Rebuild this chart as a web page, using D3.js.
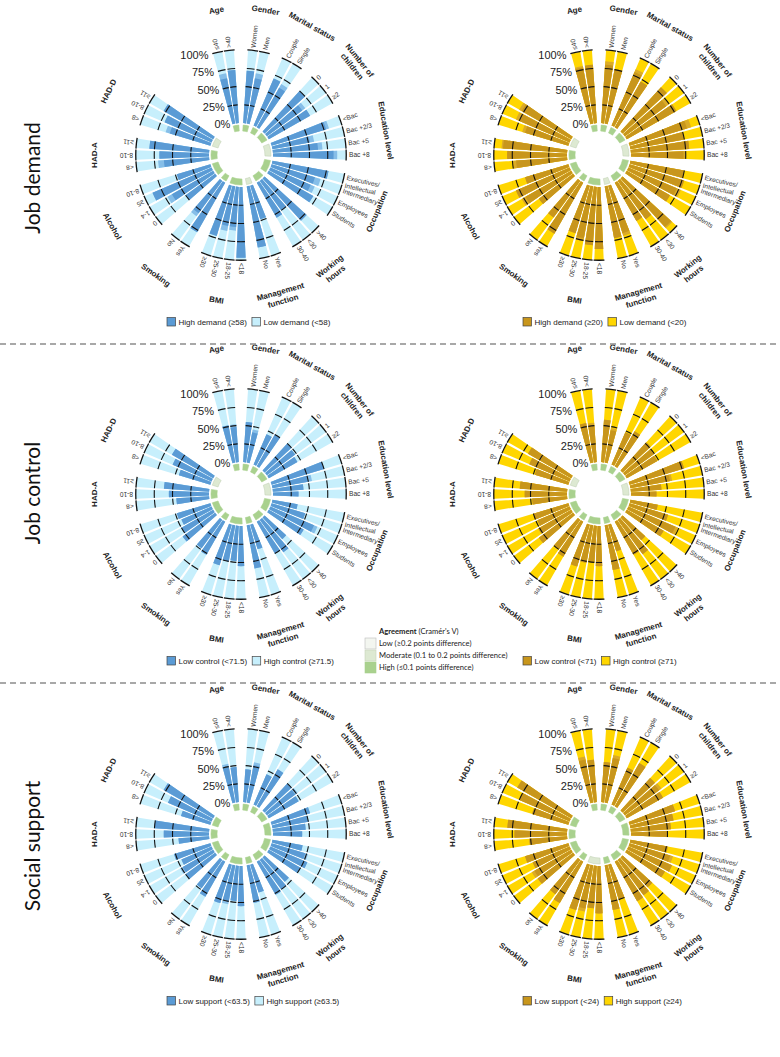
<!DOCTYPE html>
<html>
<head>
<meta charset="utf-8">
<script src="https://cdn.jsdelivr.net/npm/d3@7"></script>
<style>
  body { margin: 0; background: #fff; }
  svg { display: block; font-family: "Liberation Sans", Arial, sans-serif; }
</style>
</head>
<body>
<div id="chart"></div>
<script>
// ---- data ----
const groups = ["Age", "Gender", "Marital status", "Number of|children", "Education level",
  "Occupation", "Working|hours", "Management|function", "BMI", "Smoking", "Alcohol", "HAD-A", "HAD-D"];
const groupItems = [
  ["≤40", ">40"], ["Women", "Men"], ["Couple", "Single"], ["0", "1", "≥2"],
  ["<Bac", "Bac +2/3", "Bac +5", "Bac +8"],
  ["Executives/|Intellectual", "Intermediary", "Employees", "Students"],
  [">40", "<30", "30-40"], ["Yes", "No"], ["<18", "18-25", "25-30", "≥30"],
  ["Yes", "No"], ["0", "1-4", "≥5", "8-10"], ["<8", "8-10", "≥11"], ["<8", "8-10", "≥11"]
];
const pctTicks = [0, 25, 50, 75, 100];
const rowTitles = ["Job demand", "Job control", "Social support"];

// dark share (%) and end of the intermediate band (%), per bar in the order above
const demandBlueDark = [63, 73, 72, 63, 70, 62, 75, 60, 65, 78, 52, 62, 83, 78, 62, 60, 70, 78, 50, 55, 48, 85, 97, 55, 55, 72, 78, 55, 50, 65, 88, 48, 62, 68, 82, 58, 70, 78];
const demandBlueMid  = [70, 73, 72, 70, 70, 68, 75, 65, 65, 82, 58, 68, 88, 78, 70, 66, 70, 78, 50, 55, 48, 85, 97, 60, 62, 72, 78, 60, 50, 72, 88, 48, 70, 68, 82, 64, 70, 78];
const demandGoldDark = [78, 80, 80, 76, 80, 72, 82, 70, 78, 82, 75, 80, 72, 75, 78, 72, 68, 90, 65, 60, 68, 72, 85, 80, 72, 68, 80, 62, 58, 72, 80, 62, 70, 82, 88, 62, 75, 78];
const demandGoldMid  = [80, 80, 85, 76, 84, 72, 82, 75, 78, 88, 75, 80, 75, 75, 78, 78, 68, 92, 65, 60, 72, 72, 85, 80, 76, 68, 80, 62, 58, 78, 80, 62, 74, 82, 90, 66, 80, 82];
const controlBlueDark = [52, 48, 55, 42, 45, 50, 50, 48, 45, 75, 50, 42, 35, 35, 48, 65, 55, 40, 55, 50, 35, 60, 55, 48, 50, 58, 52, 48, 55, 50, 45, 48, 45, 55, 62, 45, 58, 65];
const controlBlueMid  = [52, 52, 55, 46, 45, 50, 50, 48, 45, 75, 55, 42, 35, 35, 48, 70, 55, 40, 55, 50, 35, 60, 55, 48, 50, 58, 52, 48, 55, 50, 45, 48, 45, 55, 62, 45, 58, 65];
const controlGoldDark = [55, 50, 58, 45, 48, 55, 52, 50, 48, 78, 55, 42, 35, 38, 55, 70, 58, 42, 58, 52, 38, 62, 55, 50, 52, 60, 55, 50, 58, 52, 48, 50, 48, 58, 65, 48, 60, 68];
const controlGoldMid  = [55, 54, 58, 48, 48, 55, 52, 50, 48, 78, 58, 42, 35, 38, 55, 74, 58, 42, 58, 52, 38, 62, 55, 50, 52, 60, 55, 50, 58, 52, 48, 50, 48, 58, 65, 48, 60, 68];
const supportBlueDark = [50, 48, 45, 52, 45, 58, 50, 48, 47, 55, 50, 45, 40, 42, 48, 55, 50, 45, 50, 52, 40, 52, 55, 48, 50, 55, 55, 48, 50, 48, 45, 52, 42, 62, 75, 42, 65, 78];
const supportBlueMid  = [54, 48, 45, 56, 45, 58, 50, 52, 47, 55, 50, 45, 40, 42, 52, 55, 50, 45, 50, 52, 40, 52, 55, 48, 54, 55, 55, 48, 50, 52, 45, 52, 42, 62, 75, 42, 65, 78];
const supportGoldDark = [60, 58, 55, 62, 55, 68, 60, 58, 57, 65, 60, 55, 50, 52, 58, 65, 60, 55, 60, 62, 50, 62, 65, 58, 60, 65, 65, 58, 60, 58, 55, 62, 52, 72, 82, 52, 75, 85];
const supportGoldMid  = [64, 58, 55, 66, 55, 68, 60, 62, 57, 65, 60, 55, 50, 52, 62, 65, 60, 55, 60, 62, 50, 62, 65, 58, 64, 65, 65, 58, 60, 62, 55, 62, 52, 72, 82, 52, 75, 85];

// agreement per variable group: 0 low, 1 moderate, 2 high
const agreeDemandBlue  = [2, 2, 2, 2, 1, 2, 2, 1, 2, 2, 2, 2, 1];
const agreeDemandGold  = [2, 2, 2, 2, 1, 2, 2, 1, 2, 2, 2, 2, 1];
const agreeControlBlue = [2, 2, 2, 2, 1, 2, 2, 2, 2, 2, 2, 2, 1];
const agreeControlGold = [2, 2, 2, 2, 1, 2, 2, 2, 2, 2, 2, 2, 1];
const agreeSupportBlue = [2, 2, 2, 2, 2, 2, 2, 2, 2, 2, 2, 2, 2];
const agreeSupportGold = [2, 2, 2, 2, 2, 2, 2, 2, 1, 2, 2, 2, 2];

const legendLabels = [
  ["High demand (≥58)", "Low demand (<58)"], ["High demand (≥20)", "Low demand (<20)"],
  ["Low control (<71.5)", "High control (≥71.5)"], ["Low control (<71)", "High control (≥71)"],
  ["Low support (<63.5)", "High support (≥63.5)"], ["Low support (<24)", "High support (≥24)"]
];
const agreeLabels = ["Low (≥0.2 points difference)", "Moderate (0.1 to 0.2 points difference)", "High (≤0.1 points difference)"];

// ---- styles ----
const W = 780, H = 1057;
const palettes = {
  blue: { dark: "#5b9bd5", mid: "#86bee8", light: "#c7effc" },
  gold: { dark: "#c8961c", mid: "#dbab27", light: "#ffd600" }
};
const agreeFill = ["#f3f6f0", "#dde9d2", "#a9d18e"];
const agreeStroke = ["#bdbdbd", "#c5d3b9", "#a9d18e"];

const svg = d3.select("#chart").append("svg").attr("width", W).attr("height", H);

// slot layout: bars, single gaps between groups, wider gap for the % axis
const slots = [];
const bars = [];
groupItems.forEach((items, gi) => {
  items.forEach((lab, j) => {
    const key = gi + "_" + j;
    slots.push(key);
    bars.push({ key, gi, lab });
  });
  if (gi < groupItems.length - 1) slots.push("gap" + gi);
});
for (let k = 0; k < 6; k++) slots.push("axis" + k);

const step = 2 * Math.PI / slots.length;
const a0 = -2.5 * step;
const angle = d3.scaleBand().domain(slots).range([a0, a0 + 2 * Math.PI])
  .paddingInner(0.2).paddingOuter(0.1);
const radius = d3.scaleLinear().domain([0, 100]).range([32, 105]);
const arc = d3.arc();
const deg = a => a * 180 / Math.PI;

function drawChart(cx, cy, dark, mid, agree, pal, legend, lx) {
  const g = svg.append("g").attr("transform", `translate(${cx},${cy})`);
  const rows = bars.map((b, i) => Object.assign({}, b, { dark: dark[i], mid: mid[i] }));

  const seg = (d, from, to) => arc({
    innerRadius: radius(from), outerRadius: radius(to),
    startAngle: angle(d.key), endAngle: angle(d.key) + angle.bandwidth()
  });

  const bg = g.append("g");
  bg.selectAll(".light").data(rows).join("path").attr("d", d => seg(d, 0, 100)).attr("fill", pal.light);
  bg.selectAll(".mid").data(rows).join("path").attr("d", d => seg(d, 0, d.mid)).attr("fill", pal.mid);
  bg.selectAll(".dark").data(rows).join("path").attr("d", d => seg(d, 0, d.dark)).attr("fill", pal.dark);

  // tick marks across each bar
  [25, 50, 75].forEach(p => {
    g.append("g").selectAll("path").data(rows).join("path")
      .attr("d", d => arc({
        innerRadius: radius(p) - 0.55, outerRadius: radius(p) + 0.55,
        startAngle: angle(d.key), endAngle: angle(d.key) + angle.bandwidth()
      }))
      .attr("fill", "#111");
  });
  g.append("g").selectAll("path").data(rows).join("path")
    .attr("d", d => arc({
      innerRadius: radius(100) - 0.4, outerRadius: radius(100) + 0.9,
      startAngle: angle(d.key) - step * 0.06, endAngle: angle(d.key) + angle.bandwidth() + step * 0.06
    }))
    .attr("fill", "#111");

  // agreement boxes
  g.append("g").selectAll("path").data(groupItems).join("path")
    .attr("d", (items, gi) => arc({
      innerRadius: 24, outerRadius: 30,
      startAngle: angle(gi + "_0") + step * 0.05,
      endAngle: angle(gi + "_" + (items.length - 1)) + angle.bandwidth() - step * 0.05
    }))
    .attr("fill", (d, gi) => agreeFill[agree[gi]])
    .attr("stroke", (d, gi) => agreeStroke[agree[gi]])
    .attr("stroke-width", 0.6);

  // category labels, radial
  const cat = g.append("g").selectAll("text").data(rows).join("text")
    .attr("transform", d => {
      const a = angle(d.key) + angle.bandwidth() / 2;
      const r = radius(100) + 3;
      return `translate(${r * Math.sin(a)},${-r * Math.cos(a)}) rotate(${deg(a) - 90})`;
    })
    .attr("font-size", 6.6).attr("fill", "#333");
  cat.each(function (d) {
    const parts = d.lab.split("|");
    const t = d3.select(this);
    parts.forEach((p, k) => t.append("tspan").attr("x", 0)
      .attr("dy", k === 0 ? (parts.length > 1 ? "0.1em" : "0.35em") : "1.25em").text(p));
  });

  // group labels, tangential
  const gl = g.append("g").selectAll("text").data(groups).join("text")
    .attr("transform", (name, gi) => {
      const items = groupItems[gi];
      const a = (angle(gi + "_0") + angle(gi + "_" + (items.length - 1)) + angle.bandwidth()) / 2;
      const r = 147;
      let rot = deg(a);
      const norm = ((rot % 360) + 360) % 360;
      if (norm > 90 && norm < 269) rot -= 180;
      return `translate(${r * Math.sin(a)},${-r * Math.cos(a)}) rotate(${rot})`;
    })
    .attr("text-anchor", "middle").attr("font-size", 8).attr("font-weight", "bold").attr("fill", "#222");
  gl.each(function (name) {
    const parts = name.split("|");
    const t = d3.select(this);
    parts.forEach((p, k) => t.append("tspan").attr("x", 0)
      .attr("dy", k === 0 ? (0.35 - (parts.length - 1) * 0.6) + "em" : "1.2em").text(p));
  });

  // percent axis labels
  const aa = -17.5 * Math.PI / 180;
  g.append("g").selectAll("text").data(pctTicks).join("text")
    .attr("x", p => radius(p) * Math.sin(aa) - 1)
    .attr("y", p => -radius(p) * Math.cos(aa))
    .attr("dy", "0.35em").attr("text-anchor", "end")
    .attr("font-size", 11).attr("fill", "#222")
    .text(p => p + "%");

  // legend below the chart
  const lg = svg.append("g").attr("transform", `translate(${lx},${cy + 167})`);
  let x = 0;
  [pal.dark, pal.light].forEach((c, k) => {
    lg.append("rect").attr("x", x).attr("y", -4.5).attr("width", 8.5).attr("height", 8.5)
      .attr("fill", c).attr("stroke", "#444").attr("stroke-width", 0.7);
    const t = lg.append("text").attr("x", x + 11.5).attr("y", 0).attr("dy", "0.35em")
      .attr("font-size", 8).attr("fill", "#222").text(legend[k]);
    x += 11.5 + t.node().getComputedTextLength() + 5;
  });
}

const rowsY = [155, 494, 834];
const colsX = [241, 599];
const legendX = [167, 523];
const sets = [
  [demandBlueDark, demandBlueMid, agreeDemandBlue, "blue"],
  [demandGoldDark, demandGoldMid, agreeDemandGold, "gold"],
  [controlBlueDark, controlBlueMid, agreeControlBlue, "blue"],
  [controlGoldDark, controlGoldMid, agreeControlGold, "gold"],
  [supportBlueDark, supportBlueMid, agreeSupportBlue, "blue"],
  [supportGoldDark, supportGoldMid, agreeSupportGold, "gold"]
];
sets.forEach((s, i) => {
  const row = Math.floor(i / 2), col = i % 2;
  drawChart(colsX[col], rowsY[row], s[0], s[1], s[2], palettes[s[3]], legendLabels[i], legendX[col]);
});

// row titles
const titleY = [178, 493, 846];
rowTitles.forEach((t, i) => {
  svg.append("text").attr("transform", `translate(33,${titleY[i]}) rotate(-90)`)
    .attr("text-anchor", "middle").attr("dy", "0.35em")
    .attr("font-family", "Lato, 'Open Sans', sans-serif").attr("font-size", 21).attr("fill", "#111")
    .text(t);
});

// dashed separators
[344, 683].forEach(y => {
  svg.append("line").attr("x1", 0).attr("x2", W).attr("y1", y).attr("y2", y)
    .attr("stroke", "#8c8c8c").attr("stroke-width", 1.4).attr("stroke-dasharray", "6,4");
});

// agreement legend
const al = svg.append("g").attr("transform", "translate(365,634)")
  .attr("font-family", "Lato, 'Open Sans', sans-serif").attr("font-size", 7.6).attr("fill", "#222");
const head = al.append("text").attr("x", 14).attr("y", 0);
head.append("tspan").attr("font-weight", "bold").text("Agreement");
head.append("tspan").text(" (Cramér's V)");
agreeLabels.forEach((lab, k) => {
  al.append("rect").attr("x", 0).attr("y", 4 + k * 12).attr("width", 11).attr("height", 11)
    .attr("fill", agreeFill[k]).attr("stroke", agreeStroke[k]).attr("stroke-width", 0.6);
  al.append("text").attr("x", 14).attr("y", 9.5 + k * 12).attr("dy", "0.35em").text(lab);
});
</script>
</body>
</html>
